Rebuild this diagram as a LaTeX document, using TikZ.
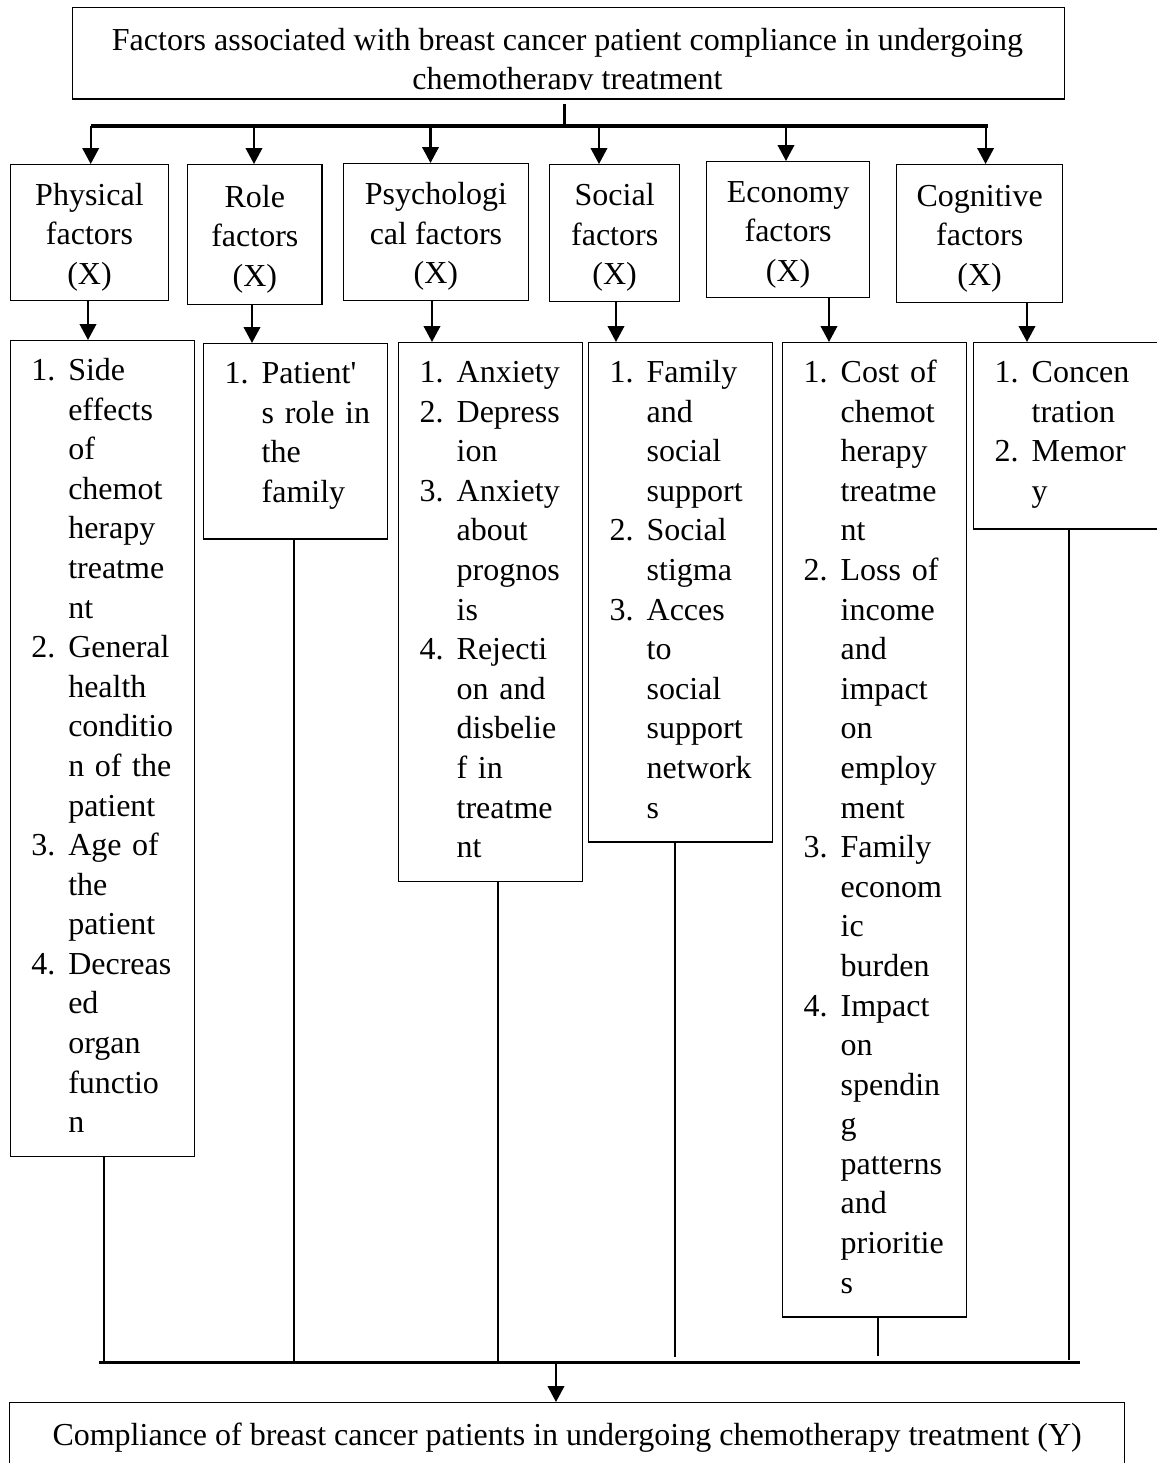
\documentclass[tikz,border=0pt]{standalone}
\usepackage{fontspec}
\setmainfont{Liberation Serif}
\usetikzlibrary{arrows.meta}
\begin{document}
\begin{tikzpicture}[
        x=0.375pt, y=-0.375pt,
        every node/.style={font=\fontsize{12}{14.8}\selectfont, inner sep=0pt},
        boxn/.style={draw, line width=0.5pt, anchor=north west, align=center},
        listn/.style={draw, line width=0.5pt, anchor=north west, align=left, inner xsep=7.875pt, inner ysep=4.5pt, text width=53.25pt, font=\fontsize{12}{14.85}\selectfont},
        arr/.style={line width=0.8pt, -{Triangle[width=6.2pt, length=6pt]}},
        bus/.style={line width=1.2pt},
        drop/.style={line width=0.8pt},
    ]
    \useasboundingbox (0,0) rectangle (1157,1463);

    \node[boxn, minimum width=372.15pt, minimum height=34.3pt](title) at (71.6,7){};
    \begin{scope}
        \clip (title.north west) rectangle ([yshift=3.75pt]title.south east);
        \node[align=center](titletxt) at (567.5,62.5){Factors associated with breast cancer patient compliance in undergoing\\chemotherapy treatment};
    \end{scope}

    \node[boxn, minimum width=59.4pt, minimum height=51pt](physbox) at (9.6,164){\rule{0pt}{11.5pt}Physical\\factors\\(X)};
    \node[boxn, minimum width=50.4pt, minimum height=52.5pt](rolebox) at (187,164){\rule{0pt}{11.5pt}Role\\factors\\(X)};
    \node[boxn, minimum width=69.2pt, minimum height=51.4pt](psybox) at (343,163){\rule{0pt}{11.5pt}Psychologi\\cal factors\\(X)};
    \node[boxn, minimum width=48.75pt, minimum height=51.4pt](socbox) at (549,164){\rule{0pt}{11.5pt}Social\\factors\\(X)};
    \node[boxn, minimum width=61.1pt, minimum height=51pt](ecobox) at (706,161){\rule{0pt}{11.5pt}Economy\\factors\\(X)};
    \node[boxn, minimum width=62.25pt, minimum height=51.75pt](cogbox) at (896,164){\rule{0pt}{11.5pt}Cognitive\\factors\\(X)};

    \node[listn](physlist) at (9.6,340){\begin{tabular}{@{}p{13.875pt}@{}l@{}}
        1. & Side\\ & effects\\ & of\\ & chemot\\ & herapy\\ & treatme\\ & nt\\
        2. & General\\ & health\\ & conditio\\ & n of the\\ & patient\\
        3. & Age of\\ & the\\ & patient\\
        4. & Decreas\\ & ed\\ & organ\\ & functio\\ & n
    \end{tabular}};
    \node[listn](rolelist) at (203,343){\begin{tabular}{@{}p{13.875pt}@{}l@{}}
        1. & Patient\textquotesingle\\ & s role in\\ & the\\ & family\\[4.9pt]
    \end{tabular}};
    \node[listn](psylist) at (398,342){\begin{tabular}{@{}p{13.875pt}@{}l@{}}
        1. & Anxiety\\
        2. & Depress\\ & ion\\
        3. & Anxiety\\ & about\\ & prognos\\ & is\\
        4. & Rejecti\\ & on and\\ & disbelie\\ & f in\\ & treatme\\ & nt
    \end{tabular}};
    \node[listn](soclist) at (588,342){\begin{tabular}{@{}p{13.875pt}@{}l@{}}
        1. & Family\\ & and\\ & social\\ & support\\
        2. & Social\\ & stigma\\
        3. & Acces\\ & to\\ & social\\ & support\\ & network\\ & s
    \end{tabular}};
    \node[listn](ecolist) at (782,342){\begin{tabular}{@{}p{13.875pt}@{}l@{}}
        1. & Cost of\\ & chemot\\ & herapy\\ & treatme\\ & nt\\
        2. & Loss of\\ & income\\ & and\\ & impact\\ & on\\ & employ\\ & ment\\
        3. & Family\\ & econom\\ & ic\\ & burden\\
        4. & Impact\\ & on\\ & spendin\\ & g\\ & patterns\\ & and\\ & prioritie\\ & s
    \end{tabular}};
    \node[listn](coglist) at (973,342){\begin{tabular}{@{}p{13.875pt}@{}l@{}}
        1. & Concen\\ & tration\\
        2. & Memor\\ & y\\[1.5pt]
    \end{tabular}};

    \node[boxn, minimum width=418.1pt, minimum height=26.25pt](result) at (9,1402){Compliance of breast cancer patients in undergoing chemotherapy treatment (Y)};

    \coordinate (tb1) at (90.7,126);
    \coordinate (tb2) at (987.5,126);
    \coordinate (bb1) at (99,1362.5);
    \coordinate (bb2) at (1079.5,1362.5);

    \draw[drop, shorten <=1.5pt] (title.south -| 564.5,0) -- (tb1 -| 564.5,0);
    \draw[bus] (tb1) -- (tb2);
    \foreach \n/\x in {physbox/90.7, rolebox/254, psybox/430.5, socbox/599, ecobox/786, cogbox/985.6}
        \draw[arr] (tb1 -| \x,0) -- (\n.north -| \x,0);
    \foreach \n/\m/\x in {physbox/physlist/88, rolebox/rolelist/252, psybox/psylist/432, socbox/soclist/616, ecobox/ecolist/829, cogbox/coglist/1027}
        \draw[arr] (\n.south -| \x,0) -- (\m.north -| \x,0);
    \foreach \m/\x/\s in {physlist/104/0, rolelist/294/0, psylist/498/0, soclist/675/1.9, ecolist/878/2.3, coglist/1069/0.8}
        \draw[drop, shorten >=\s pt] (\m.south -| \x,0) -- (bb1 -| \x,0);
    \draw[bus] (bb1) -- (bb2);
    \draw[arr] (bb1 -| 556,0) -- (result.north -| 556,0);
\end{tikzpicture}
\end{document}
